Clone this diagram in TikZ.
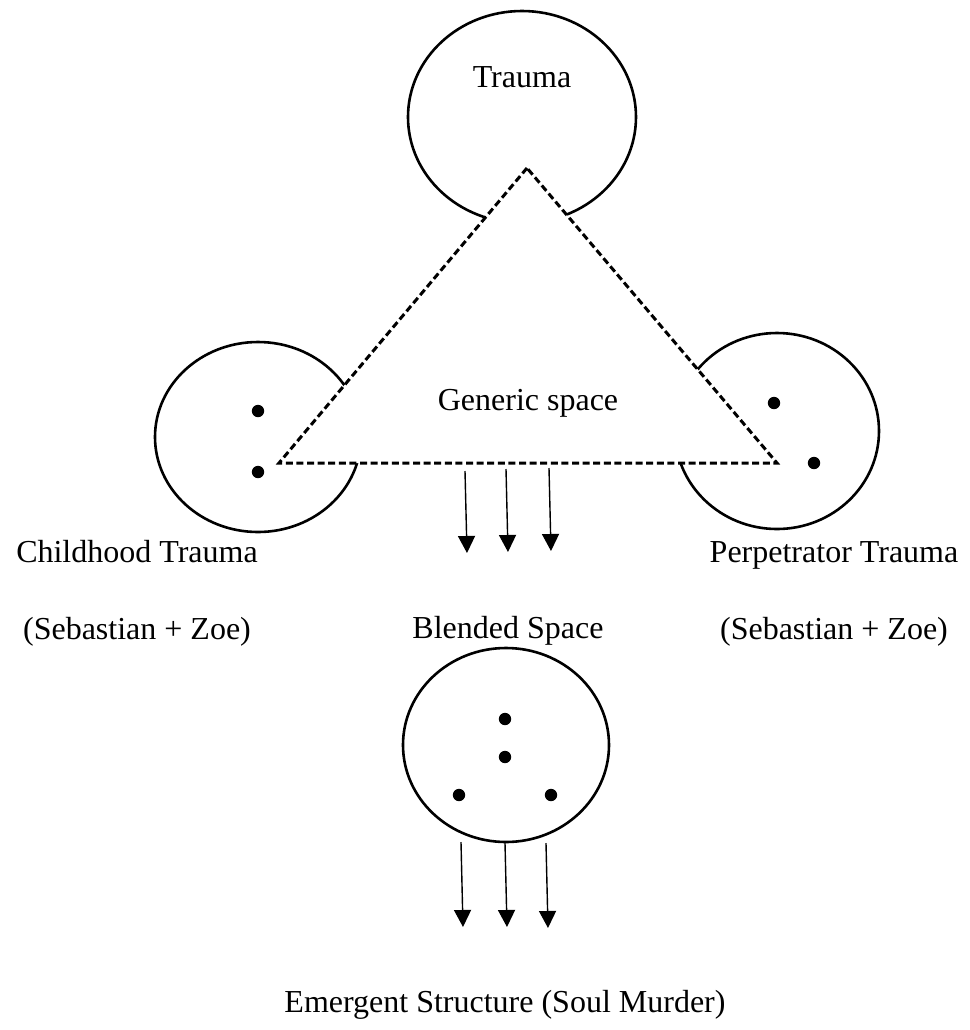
\documentclass[tikz,border=0pt]{standalone}
\usepackage{fontspec}
\setmainfont{Liberation Serif}
\usetikzlibrary{arrows.meta,shapes.geometric}

\begin{document}
\begin{tikzpicture}[x=0.5pt, y=-0.5pt,
    space/.style={ellipse, draw, line width=1.3pt, inner sep=0pt},
    spot/.style={circle, fill, inner sep=0pt, minimum size=6.2pt},
    lbl/.style={anchor=base, inner sep=0pt, font=\fontsize{16}{19}\selectfont},
    flow/.style={-{Triangle[length=8.5pt,width=8.5pt]}, line width=0.7pt}]
  \path[fill=white] (0,0) rectangle (970,1030);
  \useasboundingbox (0,0) rectangle (970,1030);
  \path node (T)  at (522,117) [space, minimum width=114pt, minimum height=106pt] {}
        node (C)  at (258,437) [space, minimum width=103pt, minimum height=95pt] {}
        node (P)  at (777,431) [space, minimum width=102pt, minimum height=98pt] {}
        node (B)  at (506,745) [space, minimum width=103pt, minimum height=97pt] {};
  \path coordinate (G)  at (527,168)
        coordinate (Gl) at (279,463)
        coordinate (Gr) at (777,463);
  \draw[fill=white, line width=1.5pt, dash pattern=on 3.5pt off 1.8pt] (G) -- (Gl) -- (Gr) -- cycle;
  \path node (Ti) at (522,87)  [lbl] {Trauma}
        node (Gi) at (528,410) [lbl] {Generic space}
        node (Ci) at (137,562) [lbl] {Childhood Trauma}
        node (Cj) at (137,639) [lbl] {(Sebastian + Zoe)}
        node (Pi) at (834,562) [lbl] {Perpetrator Trauma}
        node (Pj) at (834,639) [lbl] {(Sebastian + Zoe)}
        node (Bi) at (508,638) [lbl] {Blended Space}
        node (Ei) at (505,1012) [lbl] {Emergent Structure (Soul Murder)};
  \path node (C1) at (258,411) [spot] {}
        node (C2) at (258,472) [spot] {}
        node (P1) at (774,403) [spot] {}
        node (P2) at (814,463) [spot] {}
        node (B1) at (505,719) [spot] {}
        node (B2) at (505,757) [spot] {}
        node (B3) at (459,795) [spot] {}
        node (B4) at (551,795) [spot] {};
  \path coordinate (a1) at (465,471) coordinate (a2) at (467,553)
        coordinate (b1) at (506,469) coordinate (b2) at (508,552)
        coordinate (c1) at (549,468) coordinate (c2) at (551,551)
        coordinate (d1) at (461,842) coordinate (d2) at (463,927)
        coordinate (e1) at (505,843) coordinate (e2) at (507,927)
        coordinate (f1) at (546,843) coordinate (f2) at (548,928);
  \draw[flow] (a1) -- (a2);
  \draw[flow] (b1) -- (b2);
  \draw[flow] (c1) -- (c2);
  \draw[flow] (d1) -- (d2);
  \draw[flow] (e1) -- (e2);
  \draw[flow] (f1) -- (f2);
\end{tikzpicture}
\end{document}
